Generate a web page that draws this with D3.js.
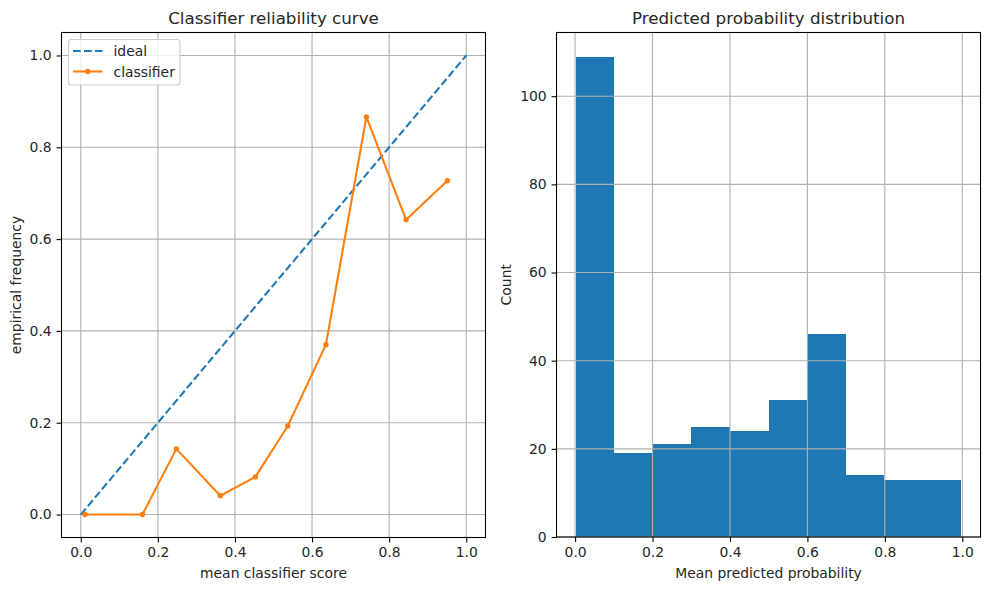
<!DOCTYPE html>
<html><head><meta charset="utf-8">
<script src="https://cdn.jsdelivr.net/npm/d3@7"></script>
<style>body{margin:0;background:#fff}svg{display:block}text{font-family:"DejaVu Sans",sans-serif;fill:#262626}</style>
</head><body>
<script>
// Reliability curve data
const idealX = [0, 1];
const idealY = [0, 1];
const clfX = [0.011, 0.160, 0.248, 0.362, 0.453, 0.537, 0.636, 0.741, 0.844, 0.951];
const clfY = [0.000, 0.000, 0.143, 0.041, 0.082, 0.193, 0.370, 0.866, 0.642, 0.727];
const ticksReliab = [0, 0.2, 0.4, 0.6, 0.8, 1.0];
// Histogram data
const binEdges = [0.002, 0.1015, 0.201, 0.3005, 0.400, 0.4995, 0.599, 0.6985, 0.798, 0.8975, 0.997];
const counts = [109, 19, 21, 25, 24, 31, 46, 14, 13, 13];
const histXTicks = [0, 0.2, 0.4, 0.6, 0.8, 1.0];
const histYTicks = [0, 20, 40, 60, 80, 100];

const W = 989, H = 590;
const svg = d3.select("body").append("svg").attr("width", W).attr("height", H);
const FS = 13.9, TFS = 16.7;
const gridC = "#b0b0b0";

function axesFrame(g, x, y, xt, yt, fmtX, fmtY) {
  const [x0, x1] = x.range(), [y0, y1] = y.range();
  return {
    grid: () => {
      const gg = g.append("g");
      xt.forEach(t => gg.append("line").attr("x1", x(t)).attr("x2", x(t)).attr("y1", y1).attr("y2", y0).attr("stroke", gridC).attr("stroke-width", 1.1));
      yt.forEach(t => gg.append("line").attr("x1", x0).attr("x2", x1).attr("y1", y(t)).attr("y2", y(t)).attr("stroke", gridC).attr("stroke-width", 1.1));
    },
    axes: () => {
      const ax = g.append("g").attr("transform", `translate(0,${y0})`)
        .call(d3.axisBottom(x).tickValues(xt).tickFormat(fmtX).tickSizeOuter(0).tickSize(4.9).tickPadding(4.9));
      const ay = g.append("g").attr("transform", `translate(${x0},0)`)
        .call(d3.axisLeft(y).tickValues(yt).tickFormat(fmtY).tickSizeOuter(0).tickSize(4.9).tickPadding(4.9));
      [ax, ay].forEach(a => {
        a.select(".domain").remove();
        a.selectAll("line").attr("stroke", "#000").attr("stroke-width", 1.1);
        a.selectAll("text").attr("font-size", FS).attr("font-family", "DejaVu Sans").attr("fill", "#262626");
      });
      g.append("rect").attr("x", x0).attr("y", y1).attr("width", x1 - x0).attr("height", y0 - y1)
        .attr("fill", "none").attr("stroke", "#000").attr("stroke-width", 1.1);
    }
  };
}

// ---------- Left panel ----------
{
  const g = svg.append("g");
  const x = d3.scaleLinear().domain([-0.05, 1.05]).range([61.5, 485.5]);
  const y = d3.scaleLinear().domain([-0.05, 1.05]).range([537.5, 32.5]);
  const f = axesFrame(g, x, y, ticksReliab, ticksReliab, d3.format(".1f"), d3.format(".1f"));
  f.grid();
  const line = d3.line().x(d => x(d[0])).y(d => y(d[1]));
  g.append("path").datum(d3.zip(idealX, idealY)).attr("d", line).attr("fill", "none")
    .attr("stroke", "#1f77b4").attr("stroke-width", 2.08).attr("stroke-dasharray", "7.7,3.3");
  g.append("path").datum(d3.zip(clfX, clfY)).attr("d", line).attr("fill", "none")
    .attr("stroke", "#ff7f0e").attr("stroke-width", 2.08).attr("stroke-linejoin", "round");
  g.selectAll("circle.pt").data(d3.zip(clfX, clfY)).enter().append("circle")
    .attr("cx", d => x(d[0])).attr("cy", d => y(d[1])).attr("r", 2.7).attr("fill", "#ff7f0e");
  f.axes();
  g.append("text").attr("x", (61.5 + 485.5) / 2).attr("y", 24).attr("text-anchor", "middle").attr("font-size", TFS).text("Classifier reliability curve");
  g.append("text").attr("x", (61.5 + 485.5) / 2).attr("y", 578).attr("text-anchor", "middle").attr("font-size", FS).text("mean classifier score");
  g.append("text").attr("transform", `translate(21,${(32.5 + 537.5) / 2}) rotate(-90)`).attr("text-anchor", "middle").attr("font-size", FS).text("empirical frequency");
  // legend
  const lg = g.append("g");
  lg.append("rect").attr("x", 68.5).attr("y", 39.5).attr("width", 111.5).attr("height", 45.5).attr("rx", 3)
    .attr("fill", "#fff").attr("fill-opacity", 0.8).attr("stroke", "#cccccc").attr("stroke-width", 1.1);
  lg.append("line").attr("x1", 73).attr("x2", 102.5).attr("y1", 51).attr("y2", 51)
    .attr("stroke", "#1f77b4").attr("stroke-width", 2.08).attr("stroke-dasharray", "7.7,3.3");
  lg.append("line").attr("x1", 73).attr("x2", 102.5).attr("y1", 71.5).attr("y2", 71.5)
    .attr("stroke", "#ff7f0e").attr("stroke-width", 2.08);
  lg.append("circle").attr("cx", 87.8).attr("cy", 71.5).attr("r", 2.7).attr("fill", "#ff7f0e");
  lg.append("text").attr("x", 113.5).attr("y", 56).attr("font-size", FS).text("ideal");
  lg.append("text").attr("x", 113.5).attr("y", 76.5).attr("font-size", FS).text("classifier");
}

// ---------- Right panel ----------
{
  const g = svg.append("g");
  const x = d3.scaleLinear().domain([-0.048, 1.047]).range([556.5, 980.5]);
  const y = d3.scaleLinear().domain([0, 114.45]).range([537, 32.5]);
  const f = axesFrame(g, x, y, histXTicks, histYTicks, d3.format(".1f"), d3.format("d"));
  g.selectAll("rect.bar").data(counts).enter().append("rect")
    .attr("x", (d, i) => Math.round(x(binEdges[i]))).attr("width", (d, i) => Math.round(x(binEdges[i + 1])) - Math.round(x(binEdges[i])))
    .attr("y", d => y(d)).attr("height", d => y(0) - y(d)).attr("fill", "#1f77b4")
    .attr("shape-rendering", "crispEdges");
  f.grid();
  f.axes();
  g.append("text").attr("x", (556.5 + 980.5) / 2).attr("y", 24).attr("text-anchor", "middle").attr("font-size", TFS).text("Predicted probability distribution");
  g.append("text").attr("x", (556.5 + 980.5) / 2).attr("y", 578).attr("text-anchor", "middle").attr("font-size", FS).text("Mean predicted probability");
  g.append("text").attr("transform", `translate(511,${(32.5 + 537) / 2}) rotate(-90)`).attr("text-anchor", "middle").attr("font-size", FS).text("Count");
}
</script>
</body></html>
